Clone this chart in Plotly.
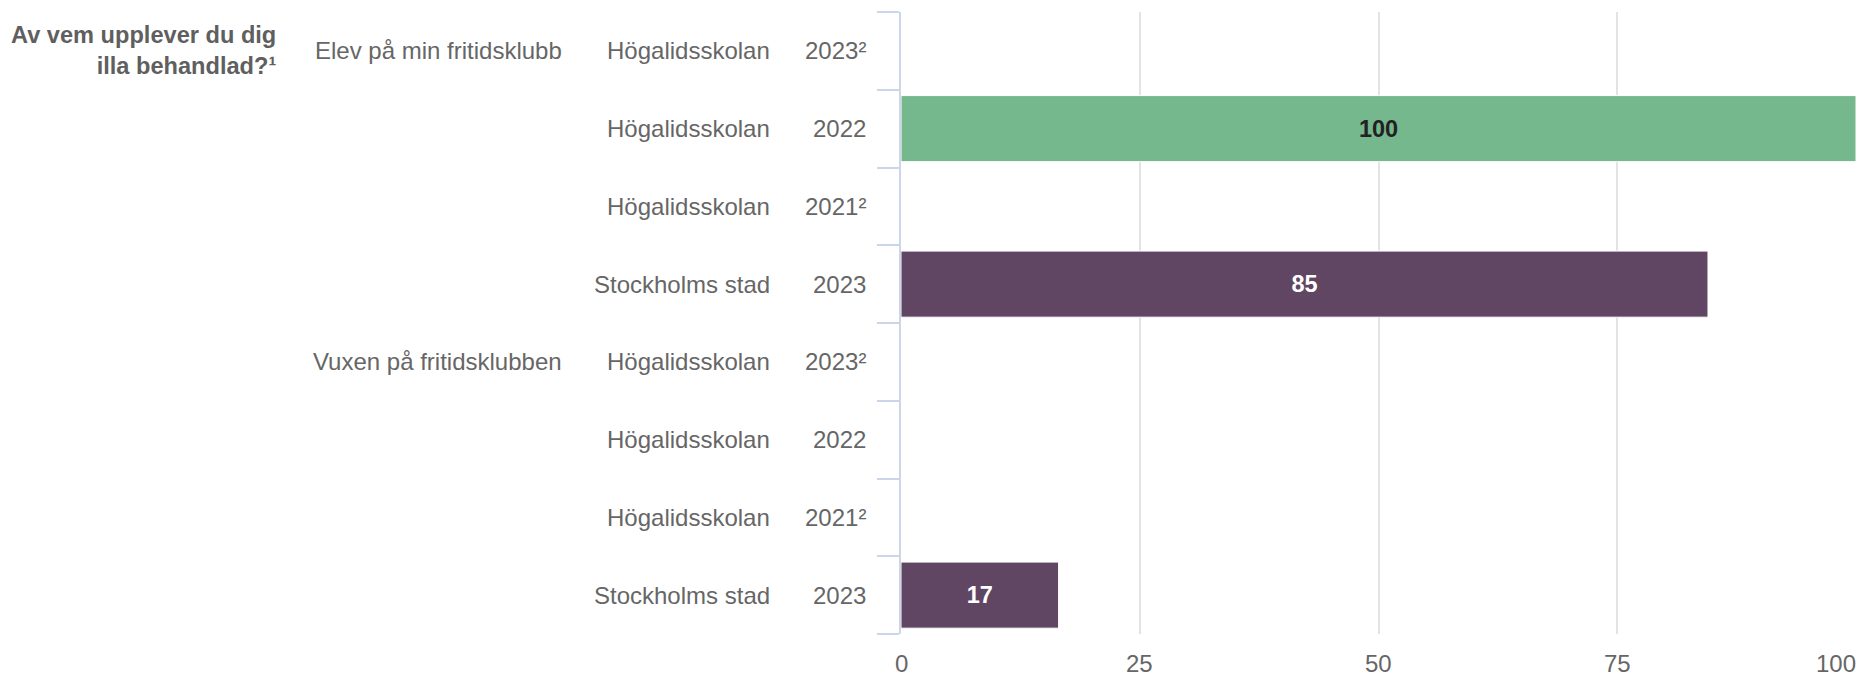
import math
import plotly.graph_objects as go

# ---- data ----
question = "Av vem upplever du dig<br>illa behandlad?¹"
groups = ["Elev på min fritidsklubb", "", "", "", "Vuxen på fritidsklubben", "", "", ""]
units = ["Högalidsskolan", "Högalidsskolan", "Högalidsskolan", "Stockholms stad",
         "Högalidsskolan", "Högalidsskolan", "Högalidsskolan", "Stockholms stad"]
years = ["2023²", "2022", "2021²", "2023", "2023²", "2022", "2021²", "2023"]
values = [None, 100, None, 84.5, None, None, None, 16.5]
x_ticks = [0, 25, 50, 75, 100]

unit_colors = {"Högalidsskolan": "#76b88e", "Stockholms stad": "#604663"}
label_colors = {"Högalidsskolan": "#222222", "Stockholms stad": "#ffffff"}

rows = list(range(len(units)))
bar_colors = [unit_colors[u] for u in units]
text_colors = [label_colors[u] for u in units]
texts = ["" if v is None else str(int(math.floor(v + 0.5))) for v in values]

FONT = "Liberation Sans, Arial, sans-serif"
GREY = "#666666"
FS = 24

fig = go.Figure()
fig.add_trace(go.Bar(
    x=values, y=rows, orientation="h",
    marker=dict(color=bar_colors, line=dict(color="#ffffff", width=1)),
    text=texts, textposition="inside", insidetextanchor="middle",
    textangle=0, constraintext="none",
    textfont=dict(family=FONT, size=23.5, color=text_colors, weight="bold"),
    hoverinfo="skip", showlegend=False,
))

annotations = []
# question title
annotations.append(dict(
    xref="paper", yref="y", x=0, y=0, xshift=-(901 - 278), xanchor="right", yanchor="middle",
    text=f"<b>{question}</b>", showarrow=False, align="right",
    font=dict(family=FONT, size=23.6, color="#5f5f5f"),
))
for r in rows:
    if groups[r]:
        annotations.append(dict(
            xref="paper", yref="y", x=0, y=r, xshift=-(901 - 564), xanchor="right", yanchor="middle",
            text=groups[r], showarrow=False, font=dict(family=FONT, size=FS, color=GREY)))
    annotations.append(dict(
        xref="paper", yref="y", x=0, y=r, xshift=-(901 - 772), xanchor="right", yanchor="middle",
        text=units[r], showarrow=False, font=dict(family=FONT, size=FS, color=GREY)))
    annotations.append(dict(
        xref="paper", yref="y", x=0, y=r, xshift=-(901 - 868), xanchor="right", yanchor="middle",
        text=years[r], showarrow=False, font=dict(family=FONT, size=FS, color=GREY)))
# x tick labels
for i, t in enumerate(x_ticks):
    last = i == len(x_ticks) - 1
    annotations.append(dict(
        xref="x", yref="paper", x=t, y=0, yshift=-29, xanchor="right" if last else "center",
        xshift=2 if last else 0,
        yanchor="middle", text=str(t), showarrow=False,
        font=dict(family=FONT, size=FS, color=GREY)))

fig.update_layout(
    width=1875, height=678,
    margin=dict(l=901, r=19, t=12, b=44),
    paper_bgcolor="white", plot_bgcolor="white",
    bargap=0.15,
    font=dict(family=FONT, size=FS, color=GREY),
    annotations=annotations,
    xaxis=dict(range=[0, 100], tickvals=x_ticks, showticklabels=False,
               showgrid=True, gridcolor="#e3e3e3", gridwidth=1.5,
               zeroline=False, showline=False, fixedrange=True),
    yaxis=dict(range=[len(rows) - 0.5, -0.5],
               tickvals=[r - 0.5 for r in rows] + [len(rows) - 0.5],
               showticklabels=False, ticks="outside", ticklen=22, tickwidth=2,
               tickcolor="#ccd6eb", showline=True, linecolor="#ccd6eb", linewidth=2,
               showgrid=False, zeroline=False, fixedrange=True),
)

fig.write_html("out.html", config={"displayModeBar": False},
               post_script="document.body.style.margin='0';document.body.style.overflow='hidden';")
